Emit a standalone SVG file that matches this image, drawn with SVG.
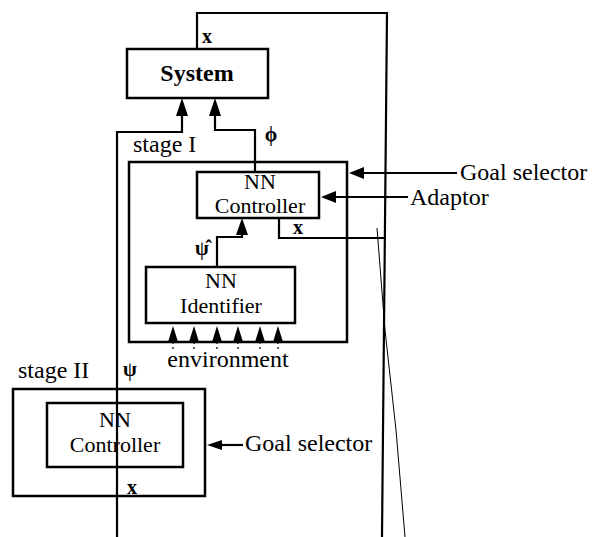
<svg xmlns="http://www.w3.org/2000/svg" width="594" height="537" viewBox="0 0 594 537">
<style>
  .box { fill: none; stroke: #000; stroke-width: 2.5; }
  .ln { fill: none; stroke: #000; stroke-width: 2.2; }
  .thin { fill: none; stroke: #000; stroke-width: 1; }
  .dot { fill: none; stroke: #000; stroke-width: 1.2; stroke-dasharray: 2 3; }
  .ah { fill: #000; stroke: none; }
  text { font-family: "Liberation Serif", "Times New Roman", serif; font-size: 24px; fill: #000; }
  .c { text-anchor: middle; }
  .b { font-weight: bold; }
  .n { font-size: 22px; }
  .s { font-size: 20px; font-weight: bold; }
</style>
<rect width="594" height="537" fill="#fff"/>

<g id="connectors">
  <!-- outer feedback loop -->
  <path class="ln" d="M197,49 V13 H387 L382,537"/>
  <path class="thin" d="M377,228 L385,330 L396,430 L405,537"/>
  <!-- psi line from stage II to System -->
  <path class="ln" d="M117,537 V132 H182 V112"/>
  <polygon class="ah" points="182,98 176,116 188,116"/>
  <!-- phi line from controller to System -->
  <path class="ln" d="M255,172 V130 H215 V112"/>
  <polygon class="ah" points="215,98 209,116 221,116"/>
  <!-- x from controller to loop -->
  <path class="ln" d="M279,218 V238 H386"/>
  <!-- psi hat from identifier to controller -->
  <path class="ln" d="M217,267 V237 H242 V232"/>
  <polygon class="ah" points="242,218 236,235 248,235"/>
  <!-- goal selector stage I -->
  <path class="ln" d="M360,173 H457"/>
  <polygon class="ah" points="349,173 364,167 364,179"/>
  <!-- adaptor -->
  <path class="ln" d="M332,197 H408"/>
  <polygon class="ah" points="321,197 336,191 336,203"/>
  <!-- goal selector stage II -->
  <path class="ln" d="M218,445 H243"/>
  <polygon class="ah" points="207,445 222,440 222,450"/>
  <!-- environment arrows -->
  <g>
    <path class="dot" d="M173,342 V352 M194,342 V352 M217,342 V352 M238,342 V352 M260,342 V352 M278,342 V352"/>
    <polygon class="ah" points="173,326 168,342 178,342"/>
    <polygon class="ah" points="194,326 189,342 199,342"/>
    <polygon class="ah" points="217,326 212,342 222,342"/>
    <polygon class="ah" points="238,326 233,342 243,342"/>
    <polygon class="ah" points="260,326 255,342 265,342"/>
    <polygon class="ah" points="278,326 273,342 283,342"/>
  </g>
</g>

<g id="system">
  <rect class="box" x="127" y="49" width="141" height="49"/>
  <text class="c b" x="197" y="81">System</text>
</g>

<g id="stage1">
  <rect class="box" x="129" y="162" width="218" height="180"/>
  <text x="133" y="152">stage I</text>
</g>

<g id="nn-controller-1">
  <rect class="box" x="197" y="172" width="122" height="46"/>
  <text class="c n" x="260" y="189">NN</text>
  <text class="c n" x="260" y="213">Controller</text>
</g>

<g id="nn-identifier">
  <rect class="box" x="146" y="267" width="149" height="56"/>
  <text class="c n" x="221" y="288">NN</text>
  <text class="c n" x="221" y="313">Identifier</text>
</g>

<g id="stage2">
  <rect class="box" x="13" y="389" width="192" height="107"/>
  <text x="18" y="378">stage II</text>
</g>

<g id="nn-controller-2">
  <rect class="box" x="47" y="403" width="136" height="64"/>
  <text class="c n" x="115" y="427">NN</text>
  <text class="c n" x="115" y="452">Controller</text>
</g>

<g id="labels">
  <text class="s" x="202" y="43">x</text>
  <text class="s c" x="271" y="141">ϕ</text>
  <text class="s" x="293" y="234">x</text>
  <text class="s c" x="202" y="255">ψ̂</text>
  <text class="c" x="228" y="367">environment</text>
  <text class="s c" x="130" y="376">ψ</text>
  <text class="s" x="127" y="494">x</text>
  <text x="460" y="180">Goal selector</text>
  <text x="410" y="205">Adaptor</text>
  <text x="245" y="451">Goal selector</text>
</g>
</svg>
